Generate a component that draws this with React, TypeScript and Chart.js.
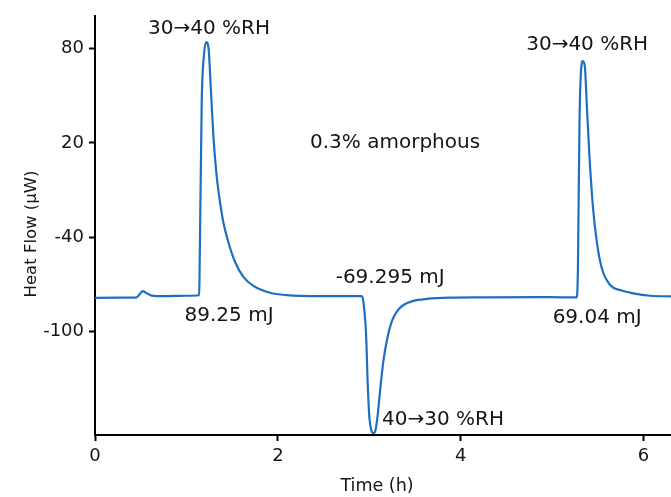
import React, { useEffect, useRef } from "react";
import { Chart, registerables } from "chart.js";

Chart.register(...registerables);

// Time (h)
const timeH = [
  0.0, 0.4, 0.456, 0.5, 0.52, 0.56, 0.62, 0.75, 1.0, 1.138,
  1.142, 1.167, 1.193, 1.218, 1.244, 1.266, 1.295, 1.331, 1.368, 1.404,
  1.459, 1.532, 1.623, 1.732, 1.915, 2.097, 2.46, 2.918, 2.935, 2.965,
  2.983, 3.001, 3.023, 3.045, 3.067, 3.089, 3.118, 3.154, 3.198, 3.246,
  3.301, 3.373, 3.482, 3.629, 3.884, 4.248, 4.978, 5.27, 5.282, 5.299,
  5.314, 5.336, 5.358, 5.38, 5.408, 5.445, 5.489, 5.544, 5.635, 5.744,
  5.89, 6.072, 6.302,
];
// Heat flow (µW)
const heatFlow = [
  -78.6, -78.5, -78.3, -75.5, -74.3, -75.5, -77.2, -77.6, -77.3, -77.0,
  -70, 45.3, 76.8, 84.2, 78.9, 55.8, 24.2, -1.1, -17.9, -30.5,
  -43.2, -55.8, -65.3, -71.0, -75.4, -76.9, -77.5, -77.5, -81.0, -102.0,
  -133.7, -154.8, -163.2, -164.9, -163.2, -154.8, -137.9, -119.0, -104.2, -93.7,
  -87.4, -83.2, -80.6, -79.3, -78.5, -78.3, -78.2, -78.4, -60, 32.6,
  64.2, 72.2, 68.4, 43.2, 11.6, -20.0, -43.2, -60.0, -70.5, -73.7,
  -75.8, -77.3, -77.7,
];

const xTicks = [0, 2, 4, 6];
const yTicks = [-100, -40, 20, 80];

const xTitle = "Time (h)";
const yTitle = "Heat Flow (\u03bcW)";

const labelTexts = [
  "30\u219240 %RH",
  "0.3% amorphous",
  "-69.295 mJ",
  "89.25 mJ",
  "40\u219230 %RH",
  "69.04 mJ",
  "30\u219240 %RH",
];
const labelX = [1.247, 3.282, 3.228, 1.466, 3.807, 5.492, 5.383];
const labelY = [89.5, 16.5, -68.9, -93.1, -159.4, -94.8, 79.5];

const FONT = "'DejaVu Sans', sans-serif";
const INK = "#151515";

export default function App() {
  const ref = useRef<HTMLCanvasElement | null>(null);

  useEffect(() => {
    if (!ref.current) return;
    const points = timeH.map((t, i) => ({ x: t, y: heatFlow[i] }));

    const annotate = {
      id: "annotate",
      afterDatasetsDraw(chart: any) {
        const ctx = chart.ctx;
        const xs = chart.scales.x;
        const ys = chart.scales.y;
        ctx.save();
        ctx.fillStyle = INK;
        ctx.font = `20px ${FONT}`;
        ctx.textAlign = "center";
        ctx.textBaseline = "alphabetic";
        labelTexts.forEach((txt, i) => {
          ctx.fillText(txt, xs.getPixelForValue(labelX[i]), ys.getPixelForValue(labelY[i]));
        });
        // axis titles
        ctx.textBaseline = "middle";
        ctx.font = `17.5px ${FONT}`;
        ctx.fillText(xTitle, 377, 486);
        ctx.translate(32, 234);
        ctx.rotate(-Math.PI / 2);
        ctx.font = `16.5px ${FONT}`;
        ctx.fillText(yTitle, 0, 0);
        ctx.restore();
      },
    };

    const chart = new Chart(ref.current, {
      type: "line",
      data: {
        datasets: [
          {
            data: points,
            borderColor: "#1f6fc0",
            borderWidth: 2.2,
            pointRadius: 0,
            fill: false,
            cubicInterpolationMode: "monotone",
          },
        ],
      },
      options: {
        animation: false,
        responsive: false,
        maintainAspectRatio: false,
        layout: { padding: { top: 12, left: 0, right: 0, bottom: 0 } },
        plugins: {
          legend: { display: false },
          tooltip: { enabled: false },
        },
        scales: {
          x: {
            type: "linear",
            min: 0,
            max: 6.3,
            afterBuildTicks: (s: any) => {
              s.ticks = xTicks.map((v) => ({ value: v }));
            },
            afterFit: (s: any) => {
              s.height = 62;
            },
            border: { display: true, color: "#000", width: 2 },
            grid: {
              display: true,
              drawOnChartArea: false,
              drawTicks: true,
              tickLength: 6,
              tickColor: "#000",
              tickWidth: 2,
            },
            ticks: {
              color: INK,
              font: { family: FONT, size: 18 },
              padding: 5,
              maxRotation: 0,
            },
          },
          y: {
            type: "linear",
            min: -166,
            max: 101,
            afterBuildTicks: (s: any) => {
              s.ticks = yTicks.map((v) => ({ value: v }));
            },
            afterFit: (s: any) => {
              s.width = 95;
            },
            border: { display: true, color: "#000", width: 2 },
            grid: {
              display: true,
              drawOnChartArea: false,
              drawTicks: true,
              tickLength: 6,
              tickColor: "#000",
              tickWidth: 2,
            },
            ticks: {
              color: INK,
              font: { family: FONT, size: 18 },
              padding: 5,
            },
          },
        },
      },
      plugins: [annotate],
    });
    return () => chart.destroy();
  }, []);

  return (
    <div style={{ position: "fixed", left: 0, top: 0, width: 671, height: 497, background: "#fff" }}>
      <canvas ref={ref} width={671} height={497} style={{ width: 671, height: 497 }} />
    </div>
  );
}
